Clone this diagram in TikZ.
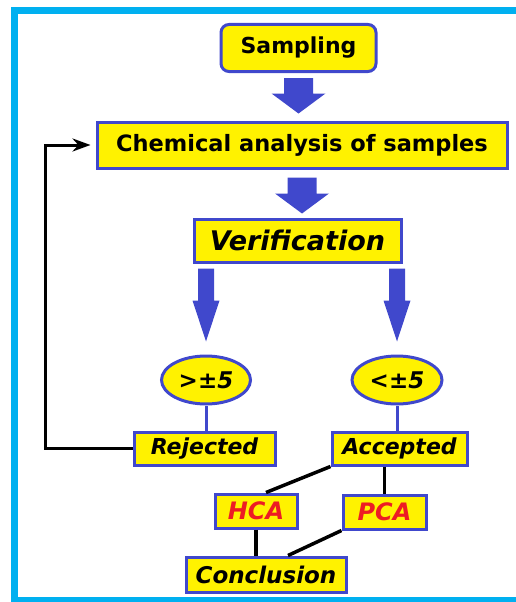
\documentclass[tikz,border=0pt]{standalone}
\usepackage{fontspec}
\setmainfont{DejaVu Sans}
\usetikzlibrary{arrows.meta,shapes.geometric,calc}

\definecolor{frameblue}{RGB}{0,176,240}
\definecolor{boxblue}{RGB}{64,72,204}
\definecolor{boxyellow}{RGB}{255,242,0}
\definecolor{labelred}{RGB}{237,28,36}

% block arrow: from, to, half shaft, half head, head length (pt)
\newcommand{\blockarrow}[5]{%
  \fill[boxblue] let \p1=#1, \p2=#2 in
    (\x1-#3pt,\y1) -- (\x1+#3pt,\y1) -- (\x1+#3pt,\y2+#5pt) -- (\x1+#4pt,\y2+#5pt)
    -- (\x1,\y2) -- (\x1-#4pt,\y2+#5pt) -- (\x1-#3pt,\y2+#5pt) -- cycle;}

\tikzset{
  box/.style={draw=boxblue, fill=boxyellow, line width=3pt, inner sep=0pt,
              font=\bfseries\fontsize{22.5}{24}\selectfont},
  ibox/.style={box, font=\bfseries\itshape\fontsize{22}{24}\selectfont},
  oval/.style={ibox, ellipse, font=\bfseries\itshape\fontsize{23}{24}\selectfont},
  link/.style={draw=boxblue, line width=3pt},
  wire/.style={draw=black, line width=3.5pt},
}

\begin{document}
\begin{tikzpicture}[x=1pt,y=-1pt]
  \useasboundingbox (0,0) rectangle (516,602);
  \draw[frameblue, line width=7pt] (530,11) -- (14,11) -- (14,600) -- (530,600); % outer frame

  \node[box, rounded corners=8pt, minimum width=155pt, minimum height=47pt, font=\bfseries\fontsize{22}{24}\selectfont] (samp) at (298.5,48) {Sampling};
  \node[box, minimum width=410pt, minimum height=46pt] (chem) at (302,145) {Chemical analysis of samples};
  \node[ibox, minimum width=207pt, minimum height=43pt, font=\bfseries\itshape\fontsize{27}{28}\selectfont] (ver) at (297.5,240.5) {Verification};

  \node[oval, minimum width=89pt, minimum height=48pt] (gt) at (206,380) {>±5};
  \node[oval, minimum width=90pt, minimum height=48pt] (lt) at (397,380) {<±5};

  \node[ibox, minimum width=141pt, minimum height=33pt] (rej) at (204.5,448.5) {Rejected};
  \node[ibox, minimum width=135pt, minimum height=33pt] (acc) at (399.5,448.5) {Accepted};
  \node[ibox, text=labelred, minimum width=82pt, minimum height=34pt, font=\bfseries\itshape\fontsize{24}{24}\selectfont] (hca) at (256,511) {HCA};
  \node[ibox, text=labelred, minimum width=83pt, minimum height=34pt, font=\bfseries\itshape\fontsize{24}{24}\selectfont] (pca) at (384.5,512) {PCA};
  \node[ibox, minimum width=160pt, minimum height=35pt, font=\bfseries\itshape\fontsize{23}{24}\selectfont] (con) at (266,574.5) {Conclusion};

  % block arrows
  \blockarrow{($(samp.south)+(0,5)$)}{($(chem.north)+(0,-7)$)}{14.5}{27}{20}
  \blockarrow{($(chem.south)+(0,8)$)}{($(ver.north)+(0,-4)$)}{14.5}{27}{20}
  \blockarrow{($(gt.north |- ver.south)+(0,5)$)}{($(gt.north)+(0,-13)$)}{8}{13.5}{41}
  \blockarrow{($(lt.north |- ver.south)+(0,5)$)}{($(lt.north)+(0,-13)$)}{8}{13.5}{41}

  % links
  \draw[link] (gt.south) -- (gt.south |- rej.north);
  \draw[link] (lt.south) -- (lt.south |- acc.north);
  \draw[wire] (acc.south west) -- ([xshift=10pt]hca.north);
  \draw[wire] (acc.south -| pca.north) -- (pca.north);
  \draw[wire] (hca.south) -- (hca.south |- con.north);
  \draw[wire] (pca.south west) -- ([xshift=22pt]con.north);

  % back to the analysis
  \draw[wire, line width=3pt, -{Stealth[length=18pt,width=13pt]}, shorten >=5pt]
    (rej.west) -- ++(-87,0) |- (chem.west);
\end{tikzpicture}
\end{document}
